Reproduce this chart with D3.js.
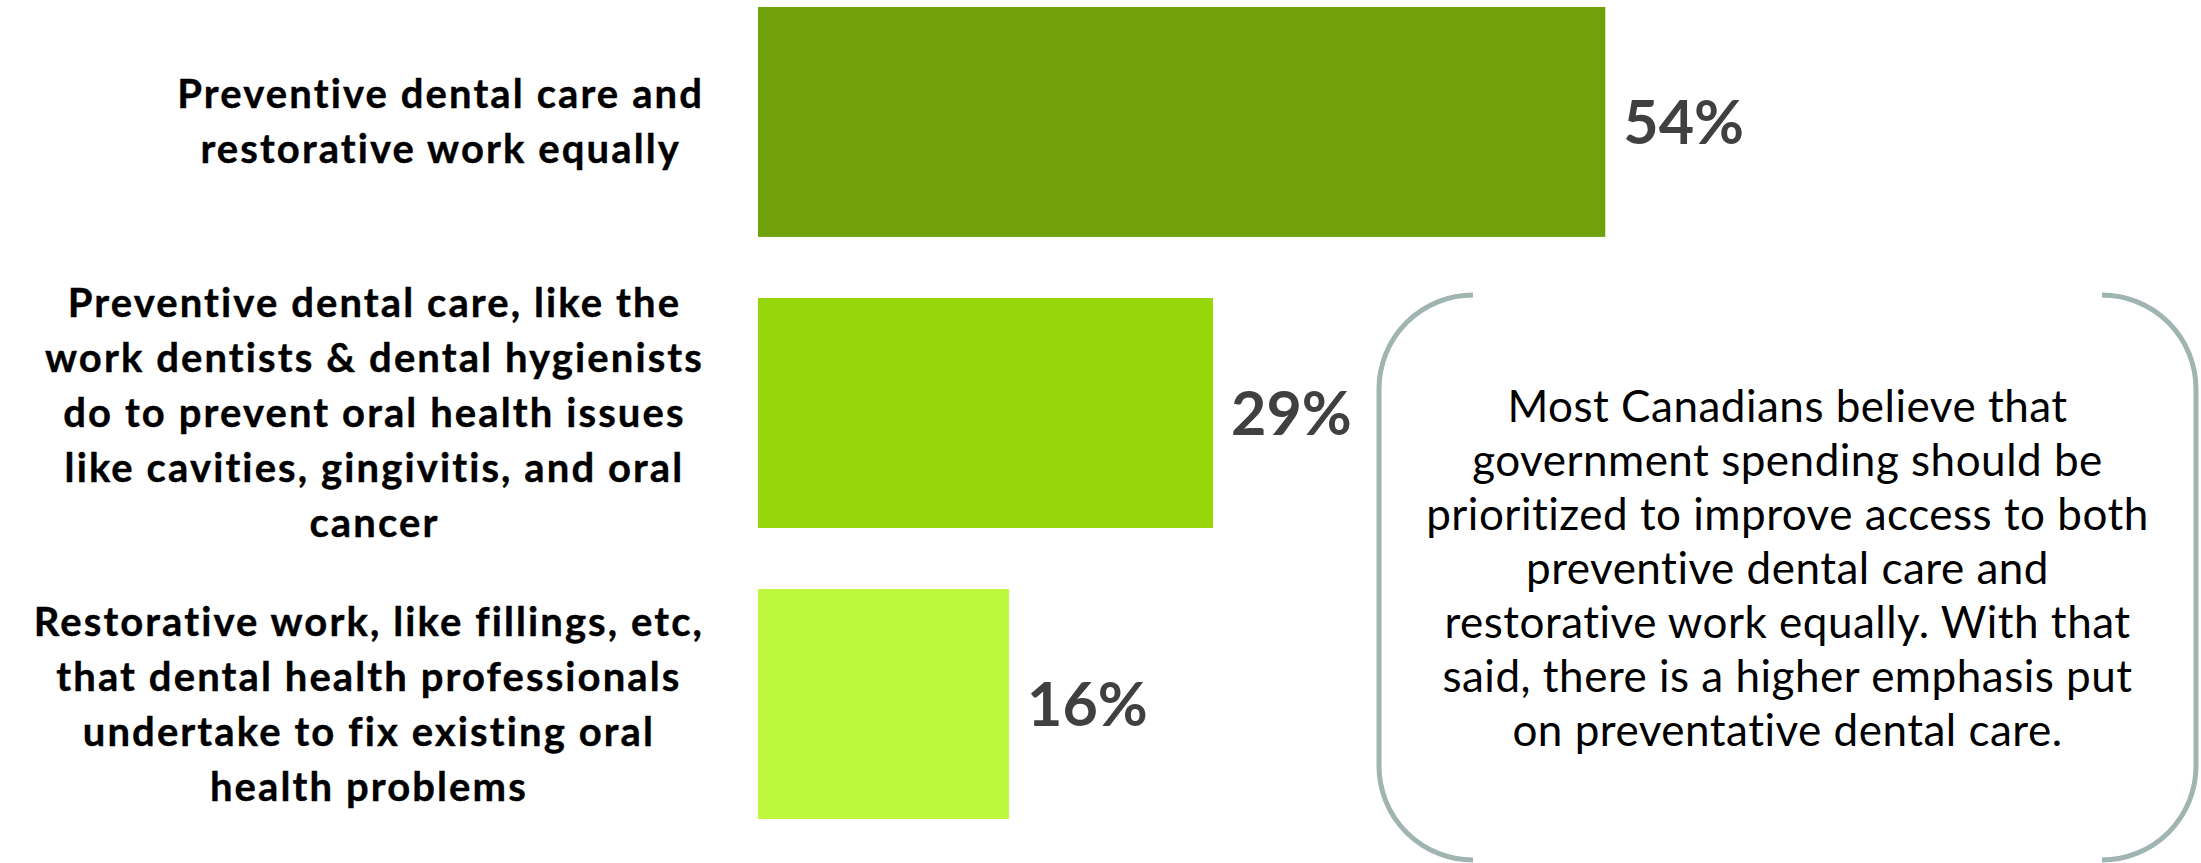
<!DOCTYPE html>
<html>
<head>
<meta charset="utf-8">
<script src="https://cdn.jsdelivr.net/npm/d3@7"></script>
<style>
  html, body { margin: 0; padding: 0; background: #ffffff; }
  svg { display: block; }
</style>
</head>
<body>
<svg id="chart" width="2201" height="863"></svg>
<script>
// ---- data ----
const categories = [
  "Preventive dental care and restorative work equally",
  "Preventive dental care, like the work dentists & dental hygienists do to prevent oral health issues like cavities, gingivitis, and oral cancer",
  "Restorative work, like fillings, etc, that dental health professionals undertake to fix existing oral health problems"
];
const labelLines = [
  ["Preventive dental care and", "restorative work equally"],
  ["Preventive dental care, like the", "work dentists & dental hygienists", "do to prevent oral health issues", "like cavities, gingivitis, and oral", "cancer"],
  ["Restorative work, like fillings, etc,", "that dental health professionals", "undertake to fix existing oral", "health problems"]
];
const values = [54, 29, 16];
const valueLabels = ["54%", "29%", "16%"];
const barColors = ["#70a00a", "#97d60a", "#bdf83c"];
const noteLines = [
  "Most Canadians believe that",
  "government spending should be",
  "prioritized to improve access to both",
  "preventive dental care and",
  "restorative work equally. With that",
  "said, there is a higher emphasis put",
  "on preventative dental care."
];

// ---- layout ----
const svg = d3.select("#chart");
const x = d3.scaleLinear().domain([0, 100]).range([758, 2327]);
const y = d3.scaleBand().domain(categories).range([7, 819]).paddingInner(0.21).paddingOuter(0);

const labelFont = "Lato, 'Noto Sans', sans-serif";

// bars
svg.append("g").selectAll("rect")
  .data(categories)
  .join("rect")
  .attr("x", x(0))
  .attr("y", d => y(d))
  .attr("width", (d, i) => x(values[i]) - x(0))
  .attr("height", y.bandwidth())
  .attr("fill", (d, i) => barColors[i]);

// value labels
const valFs = 61;
svg.append("g").selectAll("text")
  .data(categories)
  .join("text")
  .attr("x", (d, i) => x(values[i]) + 18)
  .attr("y", d => y(d) + y.bandwidth() / 2 + valFs * 0.36)
  .attr("font-family", labelFont)
  .attr("font-weight", 700)
  .attr("font-size", valFs)
  .attr("fill", "#404040")
  .text((d, i) => valueLabels[i]);

// category labels (block right-aligned, lines centered within block)
const labFs = 40, labLh = 55, labRight = x(0) - 54;
const labG = svg.append("g");
categories.forEach((c, i) => {
  const lines = labelLines[i];
  const cy = y(c) + y.bandwidth() / 2;
  const g = labG.append("g");
  const texts = g.selectAll("text").data(lines).join("text")
    .attr("font-family", labelFont)
    .attr("font-weight", 700)
    .attr("font-size", labFs)
    .attr("letter-spacing", 2.1)
    .attr("fill", "#000")
    .attr("stroke", "#000")
    .attr("stroke-width", 0.4)
    .attr("text-anchor", "middle")
    .attr("y", (d, j) => cy + 14 + (j - (lines.length - 1) / 2) * labLh)
    .text(d => d);
  let maxW = 0;
  texts.each(function() { maxW = Math.max(maxW, this.getComputedTextLength()); });
  texts.attr("x", labRight - maxW / 2);
});

// bracket note box
const bx0 = 1379, bx1 = 2196, by0 = 295, by1 = 860, r = 94;
const br = svg.append("g").attr("fill", "none").attr("stroke", "#a0b4b2").attr("stroke-width", 5);
const leftPath = d3.path();
leftPath.moveTo(bx0 + r, by0);
leftPath.arcTo(bx0, by0, bx0, by0 + r, r);
leftPath.lineTo(bx0, by1 - r);
leftPath.arcTo(bx0, by1, bx0 + r, by1, r);
br.append("path").attr("d", leftPath.toString());
const rightPath = d3.path();
rightPath.moveTo(bx1 - r, by0);
rightPath.arcTo(bx1, by0, bx1, by0 + r, r);
rightPath.lineTo(bx1, by1 - r);
rightPath.arcTo(bx1, by1, bx1 - r, by1, r);
br.append("path").attr("d", rightPath.toString());

const noteFs = 44, noteLh = 54, noteFirstBase = 422;
svg.append("g").selectAll("text")
  .data(noteLines)
  .join("text")
  .attr("x", (bx0 + bx1) / 2)
  .attr("y", (d, i) => noteFirstBase + i * noteLh)
  .attr("text-anchor", "middle")
  .attr("font-family", labelFont)
  .attr("font-weight", 400)
  .attr("font-size", noteFs)
  .attr("letter-spacing", 0.5)
  .attr("fill", "#000")
  .text(d => d);
</script>
</body>
</html>
